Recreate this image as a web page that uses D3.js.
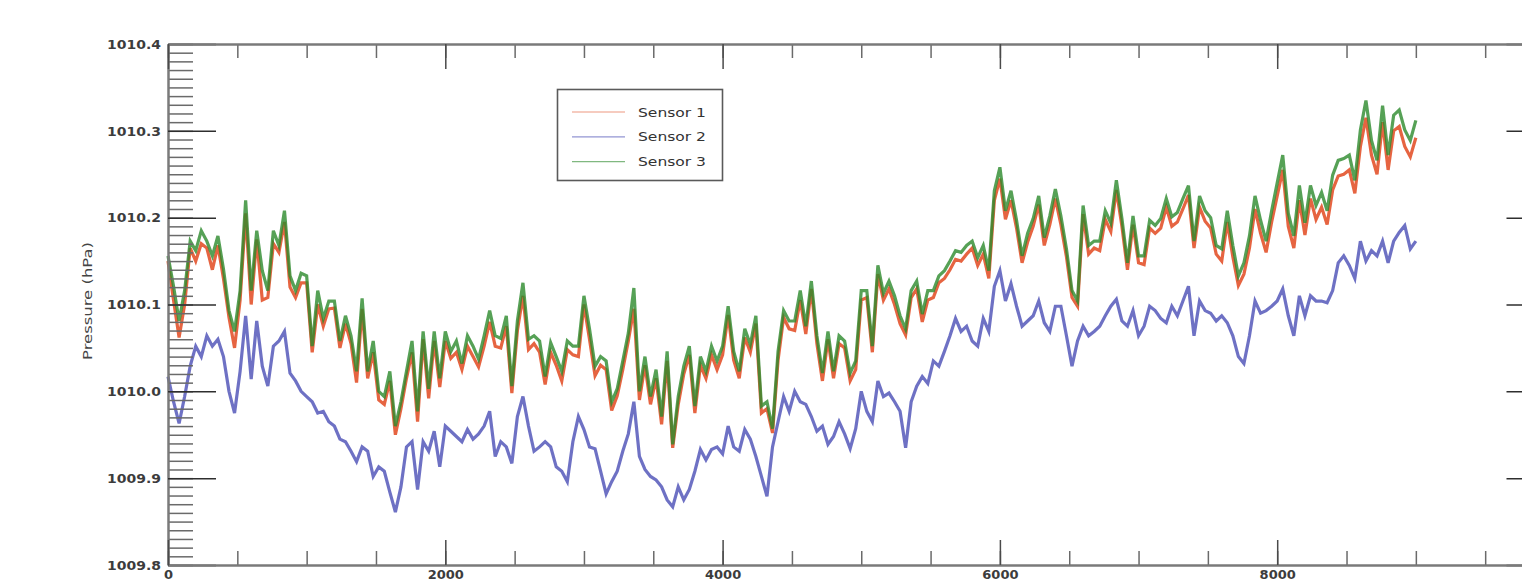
<!DOCTYPE html>
<html>
<head>
<meta charset="utf-8">
<script src="https://cdn.jsdelivr.net/npm/d3@7/dist/d3.min.js"></script>
<style>
  body { margin: 0; background: #fff; }
  svg { display: block; }
  .lbl { font-family: "DejaVu Sans", sans-serif; font-weight: bold; font-size: 13px; fill: #3c3c3c; }
  .legend-text { font-family: "DejaVu Sans", sans-serif; font-size: 13px; fill: #333; }
</style>
</head>
<body>
<svg id="chart" width="1522" height="581"></svg>
<script>
// samples every 40 units, starting at 0
const step = 40

const sensor1 = [
  1010.150, 1010.105, 1010.062, 1010.100, 1010.165, 1010.150, 1010.170, 1010.165, 1010.140, 1010.168,
  1010.130, 1010.085, 1010.050, 1010.105, 1010.205, 1010.100, 1010.175, 1010.105, 1010.108, 1010.170,
  1010.160, 1010.195, 1010.120, 1010.108, 1010.125, 1010.125, 1010.045, 1010.100, 1010.075, 1010.095,
  1010.096, 1010.050, 1010.078, 1010.055, 1010.010, 1010.095, 1010.015, 1010.045, 1009.990, 1009.985,
  1010.012, 1009.950, 1009.980, 1010.015, 1010.045, 1009.965, 1010.060, 1009.992, 1010.058, 1010.005,
  1010.058, 1010.038, 1010.045, 1010.025, 1010.052, 1010.040, 1010.028, 1010.052, 1010.080, 1010.052,
  1010.050, 1010.075, 1009.998, 1010.070, 1010.110, 1010.048, 1010.055, 1010.045, 1010.008, 1010.045,
  1010.030, 1010.012, 1010.048, 1010.042, 1010.040, 1010.100, 1010.060, 1010.018, 1010.030, 1010.025,
  1009.978, 1009.995, 1010.025, 1010.058, 1010.095, 1009.990, 1010.030, 1009.985, 1010.015, 1009.962,
  1010.035, 1009.935, 1009.985, 1010.020, 1010.042, 1009.975, 1010.030, 1010.015, 1010.042, 1010.025,
  1010.042, 1010.088, 1010.036, 1010.015, 1010.062, 1010.045, 1010.078, 1009.975, 1009.980, 1009.952,
  1010.036, 1010.085, 1010.072, 1010.070, 1010.105, 1010.066, 1010.118, 1010.055, 1010.012, 1010.060,
  1010.015, 1010.055, 1010.050, 1010.012, 1010.025, 1010.105, 1010.108, 1010.045, 1010.135, 1010.105,
  1010.118, 1010.100, 1010.078, 1010.065, 1010.108, 1010.118, 1010.080, 1010.105, 1010.108, 1010.125,
  1010.130, 1010.140, 1010.152, 1010.150, 1010.158, 1010.165, 1010.145, 1010.158, 1010.130, 1010.220,
  1010.245, 1010.198, 1010.220, 1010.188, 1010.148, 1010.172, 1010.190, 1010.215, 1010.168, 1010.192,
  1010.222, 1010.192, 1010.155, 1010.108, 1010.098, 1010.204, 1010.158, 1010.165, 1010.162, 1010.198,
  1010.184, 1010.232, 1010.190, 1010.140, 1010.192, 1010.148, 1010.146, 1010.188, 1010.182, 1010.188,
  1010.212, 1010.190, 1010.195, 1010.210, 1010.226, 1010.165, 1010.212, 1010.196, 1010.188, 1010.158,
  1010.150, 1010.195, 1010.155, 1010.122, 1010.135, 1010.165, 1010.210, 1010.182, 1010.160, 1010.195,
  1010.225, 1010.255, 1010.190, 1010.165, 1010.220, 1010.180, 1010.222, 1010.198, 1010.212, 1010.192,
  1010.232, 1010.248, 1010.250, 1010.255, 1010.228, 1010.282, 1010.315, 1010.272, 1010.250, 1010.310,
  1010.255, 1010.300, 1010.305, 1010.282, 1010.270, 1010.292
]

const sensor2 = [
  1010.017, 1009.988, 1009.963, 1009.994, 1010.029, 1010.052, 1010.040, 1010.064, 1010.052, 1010.060,
  1010.040, 1010.000, 1009.975, 1010.023, 1010.087, 1010.014, 1010.081, 1010.029, 1010.006, 1010.052,
  1010.058, 1010.069, 1010.021, 1010.012, 1010.000, 1009.994, 1009.988, 1009.975, 1009.977, 1009.965,
  1009.960, 1009.945, 1009.942, 1009.931, 1009.919, 1009.936, 1009.931, 1009.902, 1009.913, 1009.908,
  1009.884, 1009.861, 1009.890, 1009.936, 1009.942, 1009.887, 1009.942, 1009.931, 1009.954, 1009.913,
  1009.960, 1009.954, 1009.948, 1009.942, 1009.956, 1009.945, 1009.951, 1009.960, 1009.977, 1009.925,
  1009.942, 1009.936, 1009.917, 1009.971, 1009.994, 1009.960, 1009.931, 1009.936, 1009.942, 1009.936,
  1009.913, 1009.908, 1009.896, 1009.942, 1009.971, 1009.956, 1009.936, 1009.934, 1009.908, 1009.882,
  1009.896, 1009.908, 1009.931, 1009.951, 1009.988, 1009.925, 1009.910, 1009.902, 1009.898, 1009.890,
  1009.875, 1009.867, 1009.890, 1009.875, 1009.887, 1009.908, 1009.933, 1009.921, 1009.933, 1009.936,
  1009.928, 1009.960, 1009.936, 1009.931, 1009.956, 1009.945, 1009.925, 1009.902, 1009.879, 1009.936,
  1009.965, 1009.994, 1009.977, 1010.000, 1009.988, 1009.985, 1009.971, 1009.954, 1009.960, 1009.939,
  1009.948, 1009.965, 1009.951, 1009.934, 1009.957, 1010.000, 1009.977, 1009.965, 1010.012, 1009.994,
  1009.998, 1009.988, 1009.977, 1009.935, 1009.988, 1010.006, 1010.017, 1010.009, 1010.035, 1010.029,
  1010.046, 1010.064, 1010.084, 1010.069, 1010.075, 1010.058, 1010.052, 1010.084, 1010.069, 1010.121,
  1010.139, 1010.104, 1010.124, 1010.098, 1010.075, 1010.081, 1010.087, 1010.104, 1010.079, 1010.069,
  1010.098, 1010.098, 1010.064, 1010.029, 1010.058, 1010.075, 1010.064, 1010.069, 1010.075, 1010.087,
  1010.098, 1010.106, 1010.081, 1010.075, 1010.093, 1010.064, 1010.075, 1010.098, 1010.093, 1010.084,
  1010.079, 1010.098, 1010.087, 1010.104, 1010.121, 1010.064, 1010.104, 1010.093, 1010.090, 1010.081,
  1010.087, 1010.079, 1010.064, 1010.040, 1010.032, 1010.064, 1010.104, 1010.090, 1010.093, 1010.098,
  1010.104, 1010.118, 1010.087, 1010.064, 1010.110, 1010.087, 1010.110, 1010.104, 1010.104, 1010.102,
  1010.116, 1010.148, 1010.156, 1010.145, 1010.130, 1010.173, 1010.150, 1010.162, 1010.156, 1010.173,
  1010.148, 1010.173, 1010.183, 1010.191, 1010.164, 1010.173
]

const sensor3 = [
  1010.156, 1010.121, 1010.081, 1010.116, 1010.173, 1010.162, 1010.185, 1010.173, 1010.156, 1010.179,
  1010.141, 1010.093, 1010.069, 1010.116, 1010.220, 1010.116, 1010.185, 1010.139, 1010.116, 1010.185,
  1010.168, 1010.208, 1010.133, 1010.116, 1010.136, 1010.133, 1010.052, 1010.116, 1010.084, 1010.104,
  1010.104, 1010.058, 1010.087, 1010.064, 1010.023, 1010.107, 1010.023, 1010.058, 1010.000, 1009.994,
  1010.023, 1009.960, 1009.988, 1010.023, 1010.058, 1009.977, 1010.069, 1010.003, 1010.069, 1010.015,
  1010.069, 1010.046, 1010.058, 1010.032, 1010.064, 1010.052, 1010.037, 1010.064, 1010.093, 1010.064,
  1010.061, 1010.087, 1010.006, 1010.081, 1010.125, 1010.060, 1010.064, 1010.058, 1010.017, 1010.056,
  1010.040, 1010.023, 1010.058, 1010.052, 1010.052, 1010.110, 1010.072, 1010.029, 1010.040, 1010.035,
  1009.988, 1010.003, 1010.035, 1010.067, 1010.119, 1010.000, 1010.040, 1009.994, 1010.025, 1009.971,
  1010.046, 1009.939, 1009.994, 1010.029, 1010.052, 1009.983, 1010.040, 1010.023, 1010.052, 1010.035,
  1010.052, 1010.098, 1010.046, 1010.023, 1010.072, 1010.054, 1010.087, 1009.983, 1009.988, 1009.957,
  1010.046, 1010.093, 1010.081, 1010.081, 1010.116, 1010.075, 1010.127, 1010.064, 1010.021, 1010.069,
  1010.023, 1010.064, 1010.058, 1010.021, 1010.035, 1010.116, 1010.116, 1010.052, 1010.145, 1010.113,
  1010.127, 1010.110, 1010.087, 1010.072, 1010.116, 1010.127, 1010.089, 1010.116, 1010.116, 1010.133,
  1010.139, 1010.150, 1010.162, 1010.160, 1010.168, 1010.173, 1010.154, 1010.168, 1010.139, 1010.231,
  1010.258, 1010.208, 1010.231, 1010.197, 1010.156, 1010.182, 1010.199, 1010.225, 1010.177, 1010.202,
  1010.233, 1010.202, 1010.164, 1010.116, 1010.104, 1010.214, 1010.168, 1010.173, 1010.173, 1010.208,
  1010.194, 1010.243, 1010.199, 1010.148, 1010.202, 1010.156, 1010.156, 1010.197, 1010.191, 1010.199,
  1010.222, 1010.201, 1010.206, 1010.222, 1010.237, 1010.173, 1010.225, 1010.208, 1010.200, 1010.168,
  1010.164, 1010.208, 1010.168, 1010.133, 1010.148, 1010.179, 1010.225, 1010.197, 1010.173, 1010.208,
  1010.240, 1010.272, 1010.205, 1010.179, 1010.237, 1010.194, 1010.237, 1010.214, 1010.229, 1010.208,
  1010.249, 1010.266, 1010.268, 1010.272, 1010.243, 1010.301, 1010.335, 1010.289, 1010.266, 1010.329,
  1010.272, 1010.318, 1010.324, 1010.301, 1010.289, 1010.312
]

const seriesNames = ['Sensor 1', 'Sensor 2', 'Sensor 3']
const seriesColors = ['#e3532c', '#4a4eb5', '#2c892c']
const xTickValues = [0, 2000, 4000, 6000, 8000, 10000]
const xTickLabels = ['0', '2000', '4000', '6000', '8000', '']
const yTickValues = [1009.8, 1009.9, 1010.0, 1010.1, 1010.2, 1010.3, 1010.4]
const yTitle = 'Pressure (hPa)'

let pad_left = 168
let pad_top = 44
let plot_bottom = 565
let plot_right = 1554.5

let svg = d3.select('#chart')

let xScale = d3.scaleLinear().domain([0, 10000]).range([pad_left, plot_right])
let yScale = d3.scaleLinear().domain([1009.8, 1010.4]).range([plot_bottom, pad_top])

let xMinor = d3.range(0, 10001, 500)
let yMinor = d3.range(0, 61).map(i => +(1009.8 + i * 0.01).toFixed(2))

// data lines first, axes drawn over them
let allSeries = [sensor1, sensor2, sensor3]
let lineGen = d3.line()
  .x((d, i) => xScale(i * step))
  .y(d => yScale(d))

svg.append('g').selectAll('path').data(allSeries).join('path')
  .attr('fill', 'none')
  .attr('stroke', (d, i) => seriesColors[i])
  .attr('stroke-opacity', (d, i) => i === 0 ? 0.9 : 0.8)
  .attr('stroke-width', 3.2)
  .attr('stroke-linejoin', 'miter')
  .attr('d', d => lineGen(d))

function styleAxis(g, col, w){
  g.select('.domain').attr('stroke', '#7a7a7a').attr('stroke-width', 2)
  g.selectAll('.tick line').attr('stroke', col).attr('stroke-width', w)
}

// minor ticks
svg.append('g').attr('transform', `translate(${pad_left},0)`)
  .call(d3.axisLeft(yScale).tickValues(yMinor).tickSize(-25).tickSizeOuter(0).tickFormat(''))
  .call(g => styleAxis(g, '#6a6a6a', 1.5))
svg.append('g').attr('transform', `translate(${plot_right},0)`)
  .call(d3.axisRight(yScale).tickValues(yMinor).tickSize(-25).tickSizeOuter(0).tickFormat(''))
  .call(g => styleAxis(g, '#6a6a6a', 1.5))
svg.append('g').attr('transform', `translate(0,${plot_bottom})`)
  .call(d3.axisBottom(xScale).tickValues(xMinor).tickSize(-14).tickSizeOuter(0).tickFormat(''))
  .call(g => styleAxis(g, '#6a6a6a', 1.5))
svg.append('g').attr('transform', `translate(0,${pad_top})`)
  .call(d3.axisTop(xScale).tickValues(xMinor).tickSize(-14).tickSizeOuter(0).tickFormat(''))
  .call(g => styleAxis(g, '#6a6a6a', 1.5))

// major ticks with labels
svg.append('g').attr('transform', `translate(${pad_left},0)`)
  .call(d3.axisLeft(yScale).tickValues(yTickValues).tickSize(-48).tickSizeOuter(0).tickPadding(7).tickFormat(d3.format('.1f')))
  .call(g => styleAxis(g, '#2e2e2e', 1.5))
  .call(g => g.selectAll('text').attr('class', 'lbl').attr('fill', null)
    .attr('textLength', 54).attr('lengthAdjust', 'spacingAndGlyphs'))
svg.append('g').attr('transform', `translate(${plot_right},0)`)
  .call(d3.axisRight(yScale).tickValues(yTickValues).tickSize(-48).tickSizeOuter(0).tickFormat(''))
  .call(g => styleAxis(g, '#2e2e2e', 1.5))
svg.append('g').attr('transform', `translate(0,${plot_bottom})`)
  .call(d3.axisBottom(xScale).tickValues(xTickValues).tickSize(-25).tickSizeOuter(0).tickPadding(5)
    .tickFormat((d, i) => xTickLabels[i]))
  .call(g => styleAxis(g, '#4a4a4a', 1.5))
  .call(g => g.selectAll('text').attr('class', 'lbl').attr('fill', null))
svg.append('g').attr('transform', `translate(0,${pad_top})`)
  .call(d3.axisTop(xScale).tickValues(xTickValues).tickSize(-25).tickSizeOuter(0).tickFormat(''))
  .call(g => styleAxis(g, '#4a4a4a', 1.5))

// y title
svg.append('text')
  .attr('transform', 'translate(92,301) rotate(-90)')
  .attr('text-anchor', 'middle')
  .attr('font-family', '"DejaVu Sans", sans-serif')
  .attr('font-size', 12)
  .attr('fill', '#444')
  .attr('textLength', 118)
  .attr('lengthAdjust', 'spacingAndGlyphs')
  .text(yTitle)

// legend
let legend = svg.append('g')
legend.append('rect')
  .attr('x', 557.5).attr('y', 89.5).attr('width', 165).attr('height', 91)
  .attr('fill', '#fff').attr('stroke', '#5a5a5a').attr('stroke-width', 1.6)
let rows = legend.selectAll('g.row').data(seriesNames).join('g').attr('class', 'row')
  .attr('transform', (d, i) => `translate(0,${112 + i * 24.8})`)
rows.append('line')
  .attr('x1', 572).attr('x2', 625).attr('y1', 0).attr('y2', 0)
  .attr('stroke', (d, i) => seriesColors[i]).attr('stroke-opacity', 0.6).attr('stroke-width', 1.2)
rows.append('text')
  .attr('class', 'legend-text')
  .attr('x', 638).attr('y', 4.5)
  .attr('textLength', 68).attr('lengthAdjust', 'spacingAndGlyphs')
  .text(d => d)
</script>
</body>
</html>
